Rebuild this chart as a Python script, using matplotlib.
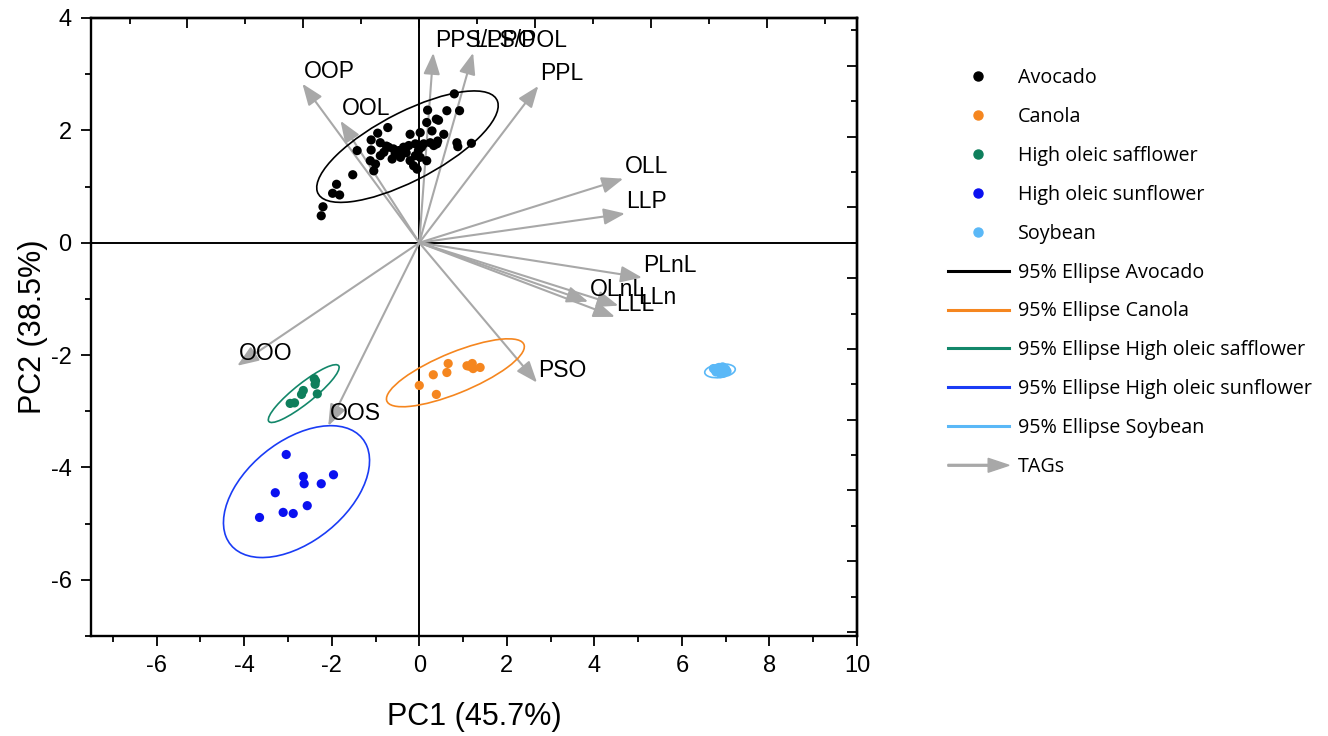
import numpy as np
import matplotlib
matplotlib.use("Agg")
import matplotlib.pyplot as plt
import matplotlib.patches as mpatches
from matplotlib.lines import Line2D
from matplotlib.legend_handler import HandlerPatch
from matplotlib.ticker import MultipleLocator

plt.rcParams['font.family'] = ['Liberation Sans', 'DejaVu Sans']
plt.rcParams['axes.unicode_minus'] = False

# PCA scores
avocado_pc1 = [0.80, 0.19, 0.63, 0.92, 0.17, 0.39, 0.44, -0.72, -0.95, -0.21, 0.02, 0.29,
               0.56, 0.42, 0.86, 0.88, 1.19, -1.42, -1.10, -0.89, -1.10, -0.81, -0.70, -0.59,
               -0.47, -0.36, -0.24, -0.09, -0.02, 0.10, 0.25, 0.33, 0.40, -0.89, -0.62, -0.43,
               -0.21, -0.09, 0.02, 0.17, -1.12, -1.00, -1.04, -0.13, -0.05, -1.52, -1.89, -1.98,
               -1.82, -2.20, -2.24, -0.55, -0.30, 0.05, -0.75]
avocado_pc2 = [2.65, 2.36, 2.35, 2.35, 2.14, 2.20, 2.18, 2.05, 1.95, 1.93, 1.96, 1.99,
               1.93, 1.81, 1.78, 1.71, 1.77, 1.64, 1.83, 1.78, 1.65, 1.61, 1.70, 1.67,
               1.64, 1.70, 1.73, 1.76, 1.64, 1.76, 1.78, 1.73, 1.76, 1.55, 1.49, 1.52,
               1.46, 1.55, 1.52, 1.46, 1.46, 1.40, 1.28, 1.37, 1.31, 1.21, 1.04, 0.88,
               0.85, 0.64, 0.48, 1.58, 1.60, 1.70, 1.72]

canola_pc1 = [0.00, 0.32, 0.39, 0.63, 0.66, 1.09, 1.21, 1.23, 1.39, 1.15]
canola_pc2 = [-2.54, -2.35, -2.70, -2.31, -2.15, -2.19, -2.15, -2.24, -2.22, -2.20]

safflower_pc1 = [-2.37, -2.38, -2.33, -2.65, -2.69, -2.95, -2.85, -2.40]
safflower_pc2 = [-2.46, -2.52, -2.69, -2.63, -2.70, -2.86, -2.85, -2.42]

sunflower_pc1 = [-3.04, -2.65, -2.63, -2.24, -1.96, -3.29, -2.56, -3.11, -2.88, -3.65]
sunflower_pc2 = [-3.77, -4.16, -4.29, -4.29, -4.13, -4.45, -4.68, -4.80, -4.82, -4.89]

soybean_pc1 = [6.72, 6.78, 6.85, 6.90, 6.95, 7.00, 6.82, 6.88, 6.93, 7.03, 6.76]
soybean_pc2 = [-2.24, -2.30, -2.22, -2.27, -2.32, -2.25, -2.26, -2.33, -2.21, -2.29, -2.27]

# 95% ellipses: centre x, centre y, semi-major, semi-minor, angle (deg)
ell_center_x = [-0.27, 0.825, -2.64, -2.805, 6.87]
ell_center_y = [1.71, -2.315, -2.685, -4.43, -2.28]
ell_semi_a = [2.21, 1.646, 0.94, 1.80, 0.35]
ell_semi_b = [0.63, 0.37, 0.19, 0.96, 0.12]
ell_angle = [21.2, 17.35, 31.3, 26.3, 5.0]

# TAG loadings (scaled)
tag_names = ['OOP', 'OOL', 'PPS/PPO', 'LLS/POL', 'PPL', 'OLL', 'LLP', 'PLnL',
             'OLnL', 'LLn', 'LLL', 'PSO', 'OOO', 'OOS']
tag_pc1 = [-2.67, -1.80, 0.32, 1.23, 2.72, 4.66, 4.70, 5.09, 3.86, 4.55, 4.47, 2.69, -4.16, -2.08]
tag_pc2 = [2.83, 2.17, 3.38, 3.38, 2.79, 1.14, 0.52, -0.62, -1.05, -1.12, -1.32, -2.49, -2.19, -3.26]

groups = ['Avocado', 'Canola', 'High oleic safflower', 'High oleic sunflower', 'Soybean']
dot_colors = ['#000000', '#f5861f', '#0e7f5c', '#0a10f0', '#5ab8f7']
ell_colors = ['#000000', '#f5861f', '#13876a', '#1a3cf5', '#5ab8f7']
arrow_color = '#a8a8a8'

xs = [avocado_pc1, canola_pc1, safflower_pc1, sunflower_pc1, soybean_pc1]
ys = [avocado_pc2, canola_pc2, safflower_pc2, sunflower_pc2, soybean_pc2]

fig = plt.figure(figsize=(13.28, 7.36), dpi=100)
ax = fig.add_axes([91 / 1328, 1 - 636 / 736, (857 - 91) / 1328, (636 - 18) / 736])

ax.axhline(0, color='k', lw=1.4, zorder=1)
ax.axvline(0, color='k', lw=1.4, zorder=1)

# loadings arrows
label_offset = {'LLn': (14, 6)}
for name, x, y in zip(tag_names, tag_pc1, tag_pc2):
    ax.annotate('', xy=(x, y), xytext=(0, 0),
                arrowprops=dict(arrowstyle='-|>,head_length=0.65,head_width=0.25',
                                mutation_scale=20, color=arrow_color, lw=1.5,
                                shrinkA=0, shrinkB=0), zorder=2)
    off = label_offset.get(name, (1, 9))
    ax.annotate(name, xy=(x, y), xytext=off, textcoords='offset points',
                ha='left', va='center', fontsize=16.5, zorder=5)

for gx, gy, c in zip(xs, ys, dot_colors):
    ax.scatter(gx, gy, s=44, color=c, edgecolors='none', zorder=4)

for i in range(len(groups)):
    e = mpatches.Ellipse((ell_center_x[i], ell_center_y[i]), 2 * ell_semi_a[i], 2 * ell_semi_b[i],
                         angle=ell_angle[i], fill=False, edgecolor=ell_colors[i], lw=1.2, zorder=3)
    ax.add_patch(e)

ax.set_xlim(-7.5, 10)
ax.set_ylim(-7, 4)
ax.xaxis.set_major_locator(MultipleLocator(2))
ax.xaxis.set_minor_locator(MultipleLocator(1))
ax.yaxis.set_major_locator(MultipleLocator(2))
ax.yaxis.set_minor_locator(MultipleLocator(1))
ax.tick_params(which='major', direction='out', length=7, width=1.3, labelsize=17, pad=7)
ax.tick_params(which='minor', direction='out', length=4, width=1.3)
for sp in ax.spines.values():
    sp.set_linewidth(1.7)

# loading-scale ticks on top and right
step_top = 1.324
secx = ax.secondary_xaxis('top')
secx.set_xticks([k * step_top for k in range(-4, 8, 2)])
secx.set_xticks([k * step_top for k in range(-5, 8, 2)], minor=True)
secx.tick_params(which='major', direction='in', length=7, width=1.3, labeltop=False)
secx.tick_params(which='minor', direction='in', length=4, width=1.3)
secx.spines['top'].set_linewidth(1.7)

step_right = 0.63
secy = ax.secondary_yaxis('right')
secy.set_yticks([k * step_right for k in range(-11, 7, 2)])
secy.set_yticks([k * step_right for k in range(-10, 7, 2)], minor=True)
secy.tick_params(which='major', direction='in', length=7, width=1.3, labelright=False)
secy.tick_params(which='minor', direction='in', length=4, width=1.3)
secy.spines['right'].set_linewidth(1.7)

ax.set_xlabel('PC1 (45.7%)', fontsize=22, labelpad=18)
ax.set_ylabel('PC2 (38.5%)', fontsize=22, labelpad=2)


# legend
def make_arrow(legend, orig_handle, xdescent, ydescent, width, height, fontsize):
    return mpatches.FancyArrow(0, height / 2, width, 0, width=1.3, head_width=10,
                               head_length=15, length_includes_head=True,
                               color=arrow_color)


handles = [Line2D([], [], marker='o', ls='none', color=c, markersize=6.5) for c in dot_colors]
handles += [Line2D([], [], color=c, lw=2.2) for c in ell_colors]
tag_handle = mpatches.FancyArrow(0, 0, 1, 0, color=arrow_color)
handles.append(tag_handle)
labels = groups + ['95% Ellipse ' + g for g in groups] + ['TAGs']

fig.legend(handles, labels, loc='upper left', bbox_to_anchor=(938 / 1328, 1 - 58 / 736),
           frameon=False, prop={'family': ['Open Sans', 'DejaVu Sans'], 'size': 14.2},
           handlelength=3.1, handletextpad=0.45, labelspacing=0.96, borderpad=0,
           handler_map={tag_handle: HandlerPatch(patch_func=make_arrow)})

fig.savefig('out.png', dpi=100)
